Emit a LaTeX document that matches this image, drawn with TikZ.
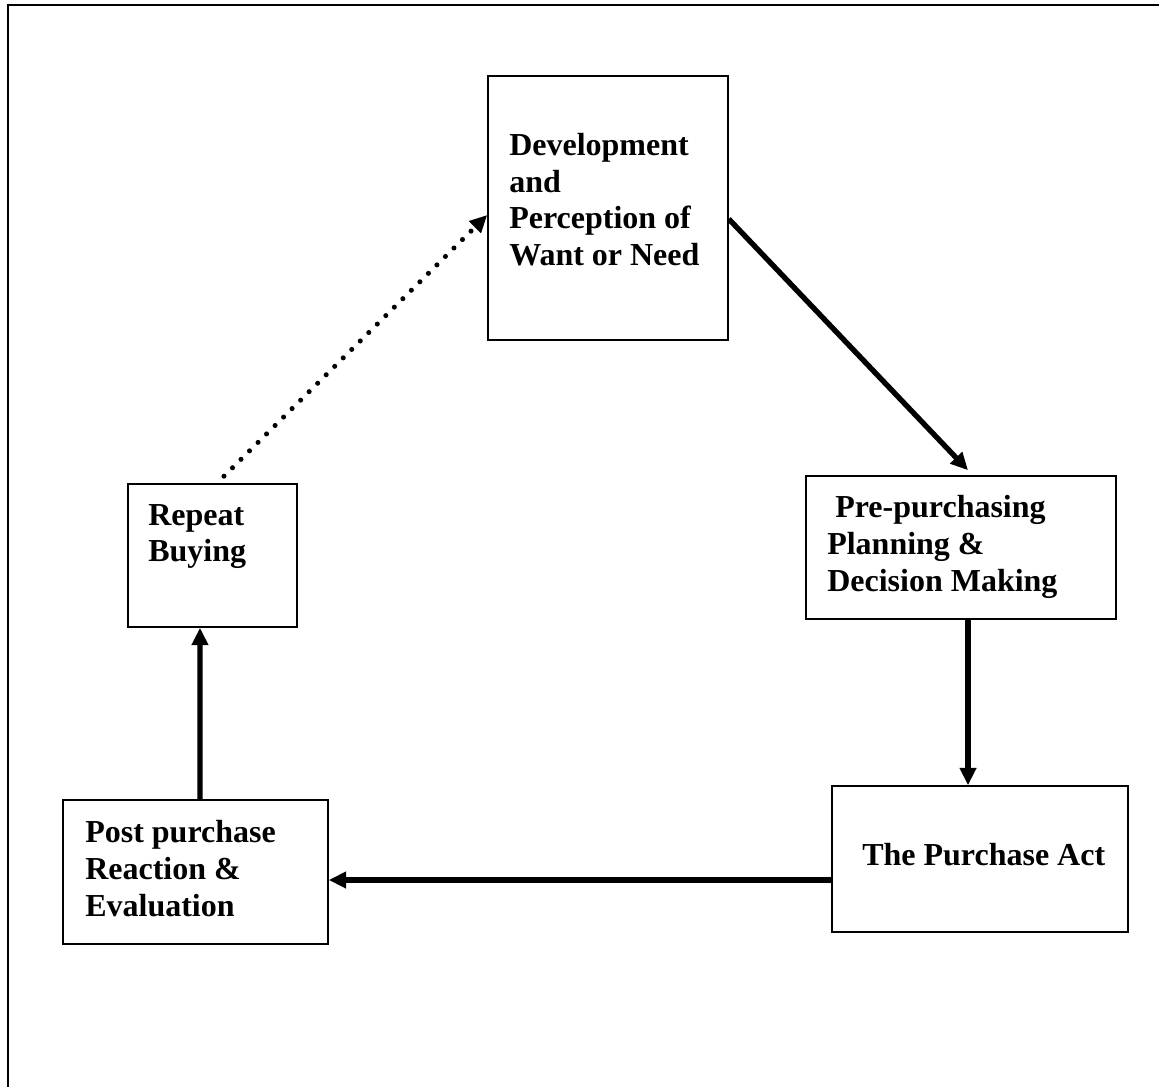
\documentclass[tikz,border=0pt]{standalone}
\usepackage{fontspec}
\setmainfont{Liberation Serif}
\usetikzlibrary{arrows.meta,calc}

\begin{document}
\begin{tikzpicture}[x=0.75pt,y=-0.75pt,
  stagebox/.style={draw,line width=1.2pt,rectangle,inner sep=0pt},
  stagetext/.style={font=\bfseries\fontsize{24}{27.5}\selectfont,align=left,inner sep=0pt,anchor=north west},
  flow/.style={line width=4pt,-{Triangle[length=13pt,width=12pt]}},
  dotflow/.style={line width=3.8pt,line cap=round,dash pattern=on 0pt off 9pt,
                  -{Triangle[length=13pt,width=12pt]}}]
  \useasboundingbox (0,0) rectangle (1159,1086);

  % outer frame (left and top edges)
  \draw[line width=1.5pt] (8,1090) -- (8,5) -- (1165,5);

  % stage boxes
  \node[stagebox,minimum width=180pt,minimum height=198pt] (dev) at (608,208) {};
  \node[stagebox,minimum width=232.5pt,minimum height=107.25pt] (pre) at (961,547.5) {};
  \node[stagebox,minimum width=222pt,minimum height=109.5pt] (act) at (980,859) {};
  \node[stagebox,minimum width=198.75pt,minimum height=108pt] (post) at (195.5,872) {};
  \node[stagebox,minimum width=126.75pt,minimum height=107.25pt] (rep) at (212.5,555.5) {};

  % stage labels
  \node[stagetext] (devtxt) at (509,133) {Development\\and\\Perception of\\Want or Need};
  \node[stagetext] (pretxt) at (827,495.5) {\ Pre-purchasing\\Planning \&\\Decision Making};
  \node[stagetext,anchor=base west] (acttxt) at (862,865) {The Purchase Act};
  \node[stagetext] (posttxt) at (85,820.5) {Post purchase\\Reaction \&\\Evaluation};
  \node[stagetext] (reptxt) at (148,504) {Repeat\\Buying};

  % connectors
  \draw[flow] ([yshift=-8.25pt]dev.east) -- ([xshift=5.25pt,yshift=3.75pt]pre.north);
  \draw[flow] ([xshift=5.25pt]pre.south) -- ([xshift=-9pt]act.north);
  \draw[flow] ([yshift=-15.75pt]act.west) -- ([yshift=-6pt]post.east);
  \draw[flow] ([xshift=3.4pt]post.north) -- ([xshift=-9.4pt]rep.south);
  \draw[dotflow] ([xshift=8.6pt,yshift=5.25pt]rep.north) -- ([yshift=-5.25pt]dev.west);
\end{tikzpicture}
\end{document}
